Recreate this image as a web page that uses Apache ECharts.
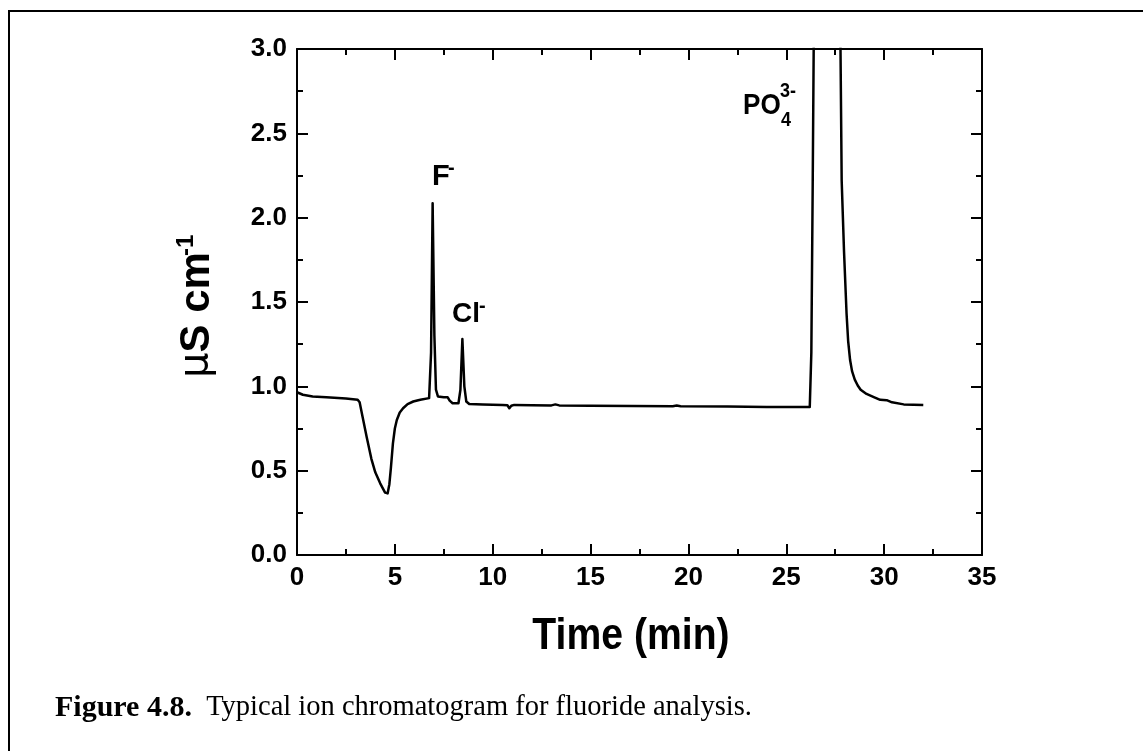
<!DOCTYPE html>
<html>
<head>
<meta charset="utf-8">
<script src="https://cdn.jsdelivr.net/npm/echarts@6/dist/echarts.min.js"></script>
<style>
html,body{margin:0;padding:0;background:#fff;}
#chart{width:1143px;height:751px;}
</style>
</head>
<body>
<div id="chart"></div>
<script>
// Data
var timeMin = [0, 0.3, 0.8, 1.5, 2.5, 3.1, 3.2, 3.35, 3.56, 3.8, 4.0, 4.25, 4.5, 4.63, 4.72, 4.8, 4.9, 5.0, 5.1, 5.25, 5.42, 5.65, 5.94, 6.3, 6.75,
  6.85, 6.93, 7.02, 7.1, 7.2, 7.5, 7.7, 7.8, 7.95, 8.25, 8.35, 8.45, 8.55, 8.65, 8.8, 9.5, 10.5, 10.75, 10.85, 10.95, 11.1, 12, 13, 13.2, 13.4,
  15, 19.2, 19.4, 19.6, 22, 24, 26.2, 26.28, 26.35, 26.4, 26.45, 27.72, 27.77, 27.83, 27.95, 28.08, 28.16, 28.26, 28.36, 28.5, 28.65, 28.8, 29.1, 29.5, 29.8, 30.13, 30.4, 31, 32];
var conductivity = [0.965, 0.95, 0.94, 0.935, 0.928, 0.92, 0.905, 0.82, 0.70, 0.57, 0.49, 0.425, 0.37, 0.365, 0.42, 0.52, 0.66, 0.75, 0.80, 0.845, 0.87, 0.895, 0.91, 0.92, 0.93,
  1.2, 2.085, 1.3, 0.98, 0.94, 0.935, 0.935, 0.915, 0.90, 0.90, 0.98, 1.28, 1.0, 0.91, 0.895, 0.893, 0.89, 0.888, 0.87, 0.885, 0.89, 0.888, 0.887, 0.893, 0.887,
  0.885, 0.882, 0.886, 0.882, 0.88, 0.878, 0.877, 1.2, 2.2, 3.0, 3.5, 3.3, 3.0, 2.22, 1.8, 1.43, 1.27, 1.156, 1.09, 1.04, 1.005, 0.98, 0.955, 0.935, 0.92, 0.918, 0.905, 0.893, 0.89];
var xTicks = [0, 5, 10, 15, 20, 25, 30, 35];
var yTicks = [0, 0.5, 1.0, 1.5, 2.0, 2.5, 3.0];

var seriesData = timeMin.map(function (t, i) { return [t, conductivity[i]]; });

var chart = echarts.init(document.getElementById('chart'), null, {renderer: 'canvas'});
var SANS = 'Liberation Sans, Arial, sans-serif';
var SERIF = 'Liberation Serif, Times New Roman, serif';
function axisCommon(showLabel, isY) {
  var ticks = isY ? yTicks : xTicks;
  return {
    min: ticks[0], max: ticks[ticks.length - 1], interval: ticks[1] - ticks[0],
    axisLine: {show: true, onZero: false, lineStyle: {color: '#000', width: 2}},
    axisTick: {show: true, inside: true, length: 11, lineStyle: {color: '#000', width: 2}},
    minorTick: {show: true, splitNumber: 2, length: 6, lineStyle: {color: '#000', width: 2}},
    splitLine: {show: false},
    axisLabel: {
      show: showLabel, color: '#000', fontFamily: SANS, fontWeight: 'bold', fontSize: 26,
      margin: isY ? 10 : 10,
      formatter: isY ? function (v) { return v.toFixed(1); } : function (v) { return String(v); }
    }
  };
}
var xb = axisCommon(true, false); xb.type = 'value'; xb.position = 'bottom';
var xt = axisCommon(false, false); xt.type = 'value'; xt.position = 'top';
var yl = axisCommon(true, true); yl.type = 'value'; yl.position = 'left';
var yr = axisCommon(false, true); yr.type = 'value'; yr.position = 'right';

var T = function (o) { return Object.assign({type: 'text', silent: true}, o); };

chart.setOption({
  animation: false,
  backgroundColor: '#fff',
  grid: {left: 297, top: 49, width: 685, height: 506, containLabel: false},
  xAxis: [xb, xt],
  yAxis: [yl, yr],
  series: [{
    type: 'line', xAxisIndex: 0, yAxisIndex: 0, data: seriesData,
    showSymbol: false, symbol: 'none', clip: true,
    lineStyle: {color: '#000', width: 2.5, join: 'round'}
  }],
  graphic: [
    // outer frame
    {type: 'line', shape: {x1: 8, y1: 11, x2: 1143, y2: 11}, style: {stroke: '#000', lineWidth: 2}},
    {type: 'line', shape: {x1: 9, y1: 10, x2: 9, y2: 751}, style: {stroke: '#000', lineWidth: 2}},
    // axis title
    T({x: 631, y: 637, scaleX: 0.89, style: {text: 'Time (min)', font: 'bold 44px ' + SANS, fill: '#000', align: 'center', verticalAlign: 'middle'}}),
    // y axis title (rotated)
    T({x: 197, y: 378, rotation: Math.PI / 2, style: {
      text: '{mu|\u03bc}{s|S cm}', align: 'left', verticalAlign: 'middle', fill: '#000',
      rich: {mu: {fontFamily: 'DejaVu Sans, sans-serif', fontSize: 40, fontWeight: 'normal', fill: '#000'},
             s: {fontFamily: SANS, fontSize: 42, fontWeight: 'bold', fill: '#000'}}
    }}),
    T({x: 186, y: 256, rotation: Math.PI / 2, style: {text: '-1', font: 'bold 24px ' + SANS, fill: '#000', align: 'left', verticalAlign: 'middle'}}),
    // peak labels
    T({x: 432, y: 177, style: {text: 'F', font: 'bold 29px ' + SANS, fill: '#000', align: 'left', verticalAlign: 'middle'}}),
    T({x: 448, y: 168, style: {text: '-', font: 'bold 20px ' + SANS, fill: '#000', align: 'left', verticalAlign: 'middle'}}),
    T({x: 452, y: 314, style: {text: 'Cl', font: 'bold 28px ' + SANS, fill: '#000', align: 'left', verticalAlign: 'middle'}}),
    T({x: 479, y: 306, style: {text: '-', font: 'bold 20px ' + SANS, fill: '#000', align: 'left', verticalAlign: 'middle'}}),
    T({x: 743, y: 106, scaleX: 0.87, style: {text: 'PO', font: 'bold 30px ' + SANS, fill: '#000', align: 'left', verticalAlign: 'middle'}}),
    T({x: 780, y: 91, scaleX: 0.9, style: {text: '3-', font: 'bold 20px ' + SANS, fill: '#000', align: 'left', verticalAlign: 'middle'}}),
    T({x: 781, y: 120, scaleX: 0.9, style: {text: '4', font: 'bold 20px ' + SANS, fill: '#000', align: 'left', verticalAlign: 'middle'}}),
    // caption
    T({x: 55, y: 708, style: {
      text: '{b|Figure 4.8.}{r|  Typical ion chromatogram for fluoride analysis.}', align: 'left', verticalAlign: 'middle',
      rich: {b: {fontFamily: SERIF, fontWeight: 'bold', fontSize: 30, fill: '#000'},
             r: {fontFamily: SERIF, fontWeight: 'normal', fontSize: 28.5, fill: '#000'}}
    }})
  ]
});
</script>
</body>
</html>
